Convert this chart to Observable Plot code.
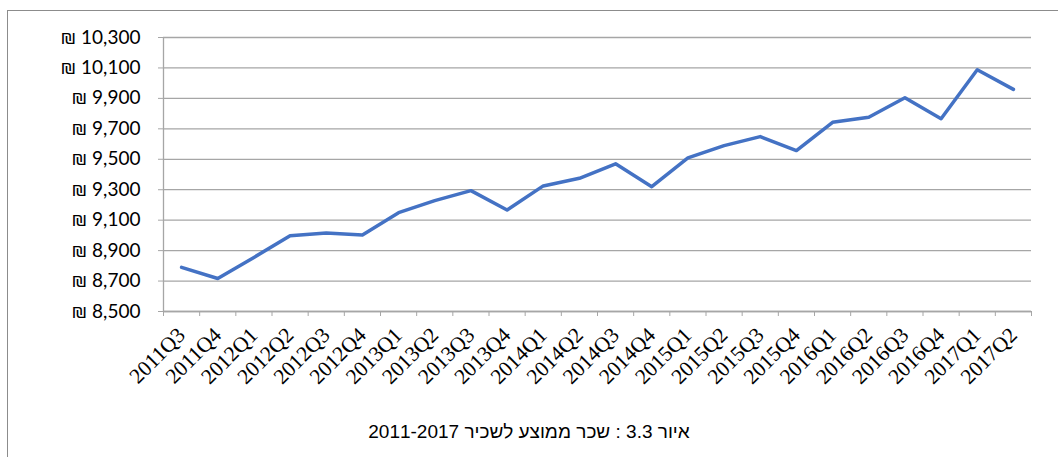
<!DOCTYPE html>
<html><head><meta charset="utf-8">
<script src="https://cdn.jsdelivr.net/npm/d3@7"></script>
<script src="https://cdn.jsdelivr.net/npm/@observablehq/plot@0.6"></script>
<style>
html,body{margin:0;padding:0;background:#fff;overflow:hidden;}
#wrap{position:relative;width:1058px;height:457px;overflow:hidden;}
#frame{position:absolute;left:7px;top:10px;width:1200px;height:600px;border:1.5px solid #8c8c8c;box-sizing:border-box;}
#chart{position:relative;}
#chart svg{display:block;}
#caption{position:relative;width:1058px;text-align:center;font-family:"Liberation Sans","DejaVu Sans",sans-serif;font-size:19px;line-height:22px;padding-top:21px;color:#000;}
</style>
</head><body>
<div id="wrap"><div id="frame"></div><div id="chart"></div><div id="caption" dir="rtl"></div></div>
<script>
const quarters = ["2011Q3","2011Q4","2012Q1","2012Q2","2012Q3","2012Q4","2013Q1","2013Q2","2013Q3","2013Q4","2014Q1","2014Q2","2014Q3","2014Q4","2015Q1","2015Q2","2015Q3","2015Q4","2016Q1","2016Q2","2016Q3","2016Q4","2017Q1","2017Q2"];
const wages = [8790, 8717, 8855, 8998, 9016, 9003, 9149, 9228, 9294, 9167, 9325, 9375, 9470, 9320, 9509, 9590, 9649, 9557, 9743, 9776, 9904, 9766, 10088, 9959];
const yTicks = [8500, 8700, 8900, 9100, 9300, 9500, 9700, 9900, 10100, 10300];
const captionText = "איור 3.3 : שכר ממוצע לשכיר 2011-2017";

const idx = quarters.map((q, i) => i);
const bounds = d3.range(quarters.length + 1).map(i => i - 0.5);
const grid = "#a6a6a6";
const fmt = d3.format(",");

const chart = Plot.plot({
  width: 1058, height: 400,
  marginLeft: 163, marginRight: 27, marginTop: 37, marginBottom: 89,
  style: {background: "transparent"},
  x: {type: "linear", domain: [-0.5, quarters.length - 0.5]},
  y: {domain: [yTicks[0], yTicks[yTicks.length - 1]]},
  marks: [
    Plot.gridY(yTicks, {stroke: grid, strokeOpacity: 1, strokeWidth: 1.3}),
    Plot.ruleX([-0.5], {stroke: grid, strokeWidth: 1.3}),
    Plot.ruleY([yTicks[0]], {stroke: grid, strokeWidth: 1.3}),
    Plot.axisY(yTicks, {label: null, tickSize: 5, tickPadding: 18, stroke: grid, fill: "#000",
      tickFormat: d => "₪ " + fmt(d), fontSize: 19, fontFamily: "Lato, 'Noto Sans', sans-serif"}),
    Plot.axisX(bounds, {label: null, tickSize: 5, stroke: grid, tickFormat: () => ""}),
    Plot.axisX(idx, {label: null, tickSize: 0, tickRotate: -45, tickFormat: i => quarters[i],
      fill: "#000", fontSize: 21.5, fontFamily: "'Liberation Serif', serif", tickPadding: 20}),
    Plot.lineY(wages, {x: (d, i) => i, y: d => d, stroke: "#4472C4", strokeWidth: 3.5, strokeLinejoin: "round", strokeLinecap: "round"})
  ]
});
document.getElementById("chart").appendChild(chart);
document.getElementById("caption").textContent = captionText;
</script>
</body></html>
